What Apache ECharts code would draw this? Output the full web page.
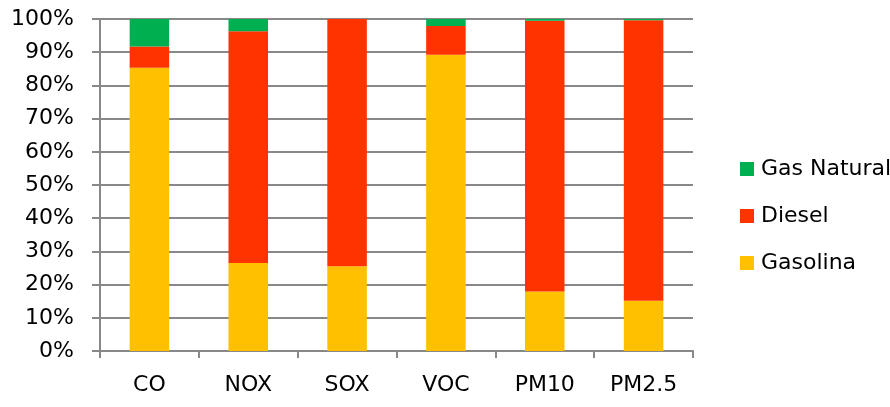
<!DOCTYPE html>
<html>
<head>
<meta charset="utf-8">
<script src="https://cdn.jsdelivr.net/npm/echarts@6/dist/echarts.min.js"></script>
<style>
  html, body { margin: 0; padding: 0; background: #fff; }
  #chart { width: 890px; height: 407px; }
</style>
</head>
<body>
<div id="chart"></div>
<script>
// Share of emissions by fuel type, per pollutant (%)
const categories = ['CO', 'NOX', 'SOX', 'VOC', 'PM10', 'PM2.5'];
const gasolina   = [85.3, 26.5, 25.5, 89.2, 17.9, 15.1];
const diesel     = [6.4, 69.8, 74.5, 8.7, 81.6, 84.5];
const gasNatural = [8.3, 3.7, 0.0, 2.1, 0.5, 0.4];
const yTicks = [0, 10, 20, 30, 40, 50, 60, 70, 80, 90, 100];

const FONT = 'DejaVu Sans';
const chart = echarts.init(document.getElementById('chart'), null, { renderer: 'canvas' });

chart.setOption({
  animation: false,
  textStyle: { fontFamily: FONT },
  grid: { left: 100, right: 197, top: 19, bottom: 56, containLabel: false },
  legend: {
    orient: 'vertical',
    left: 735,
    top: 153,
    itemWidth: 14,
    itemHeight: 14,
    itemGap: 25,
    icon: 'rect',
    data: ['Gas Natural', 'Diesel', 'Gasolina'],
    textStyle: { fontFamily: FONT, fontSize: 22, color: '#000', padding: [0, 0, 0, 2] }
  },
  xAxis: {
    type: 'category',
    data: categories,
    axisLine: { lineStyle: { color: '#888', width: 2 } },
    axisTick: { show: true, length: 7, alignWithLabel: false, lineStyle: { color: '#888', width: 2 } },
    axisLabel: { color: '#000', fontSize: 22, fontFamily: FONT, margin: 23 }
  },
  yAxis: {
    type: 'value',
    min: yTicks[0],
    max: yTicks[yTicks.length - 1],
    interval: 10,
    axisLine: { show: true, lineStyle: { color: '#888', width: 2 } },
    axisTick: { show: true, inside: false, length: 8, lineStyle: { color: '#888', width: 2 } },
    splitLine: { show: true, lineStyle: { color: '#888', width: 2 } },
    axisLabel: { color: '#000', fontSize: 22, fontFamily: FONT, margin: 26, formatter: '{value}%' }
  },
  series: [
    { name: 'Gasolina', type: 'bar', stack: 'total', data: gasolina, barWidth: '40%', itemStyle: { color: '#FFC000' } },
    { name: 'Diesel', type: 'bar', stack: 'total', data: diesel, barWidth: '40%', itemStyle: { color: '#FF3300' } },
    { name: 'Gas Natural', type: 'bar', stack: 'total', data: gasNatural, barWidth: '40%', itemStyle: { color: '#00B050' } }
  ]
});
</script>
</body>
</html>
